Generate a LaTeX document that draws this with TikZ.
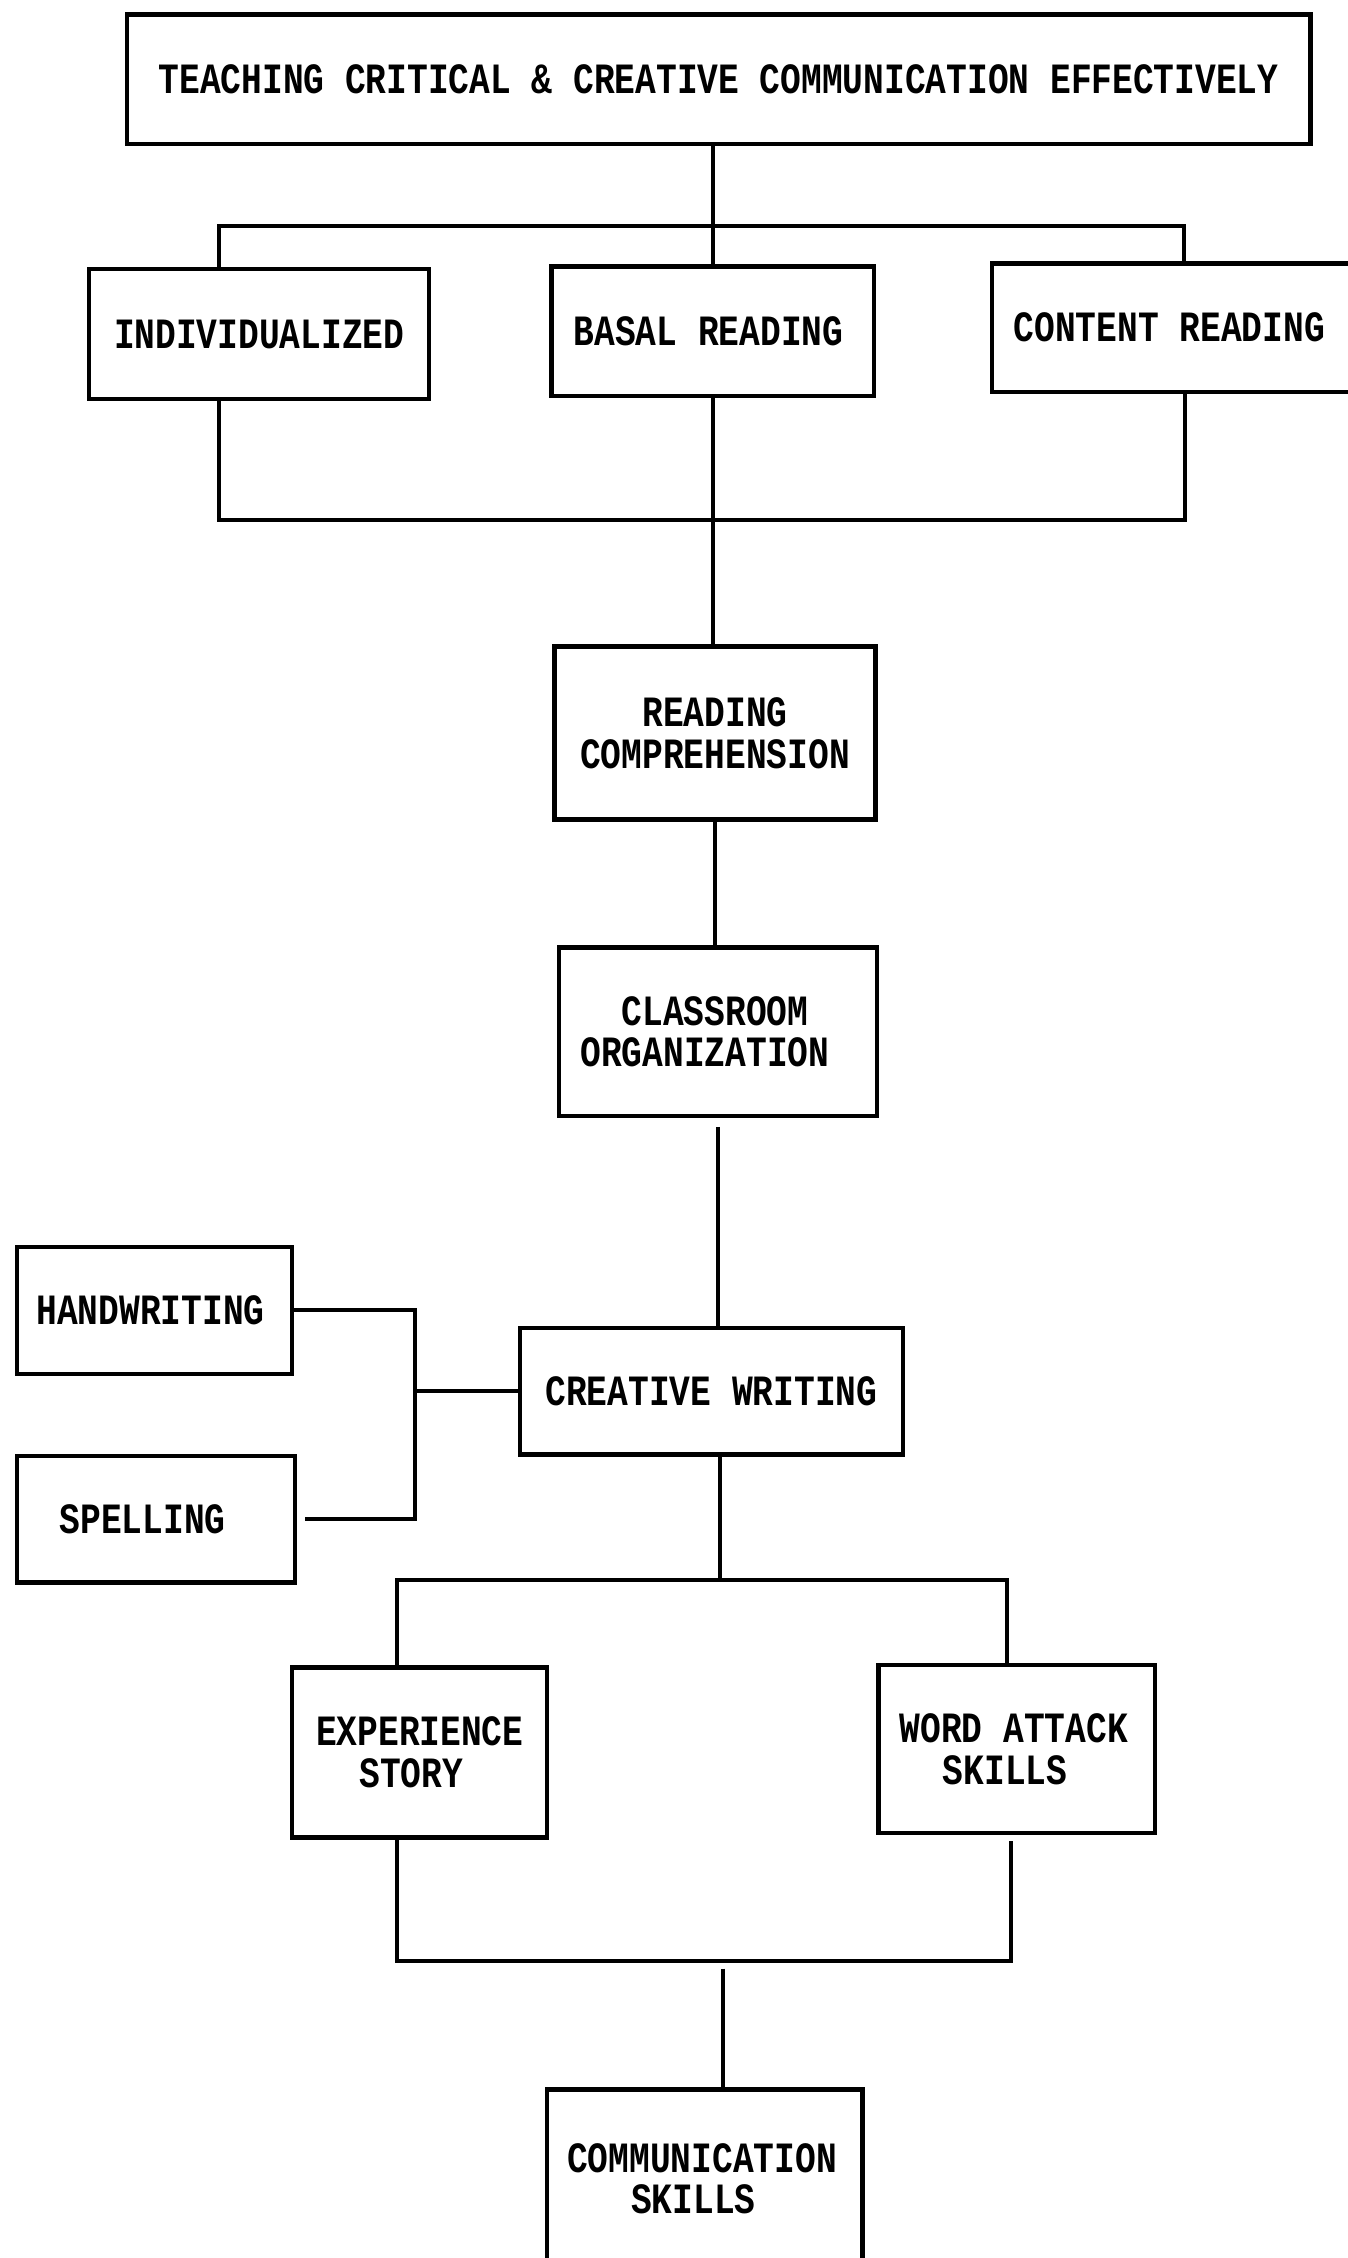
\documentclass[tikz,border=0pt]{standalone}
\usepackage{fontspec}
\setmonofont[FakeStretch=0.8]{Liberation Mono}
\tikzset{
  box/.style={draw, rectangle, line width=3pt, inner sep=0pt,
    font=\ttfamily\bfseries\fontsize{30}{29}\selectfont, align=center},
  conn/.style={line width=2.8pt}
}
\begin{document}
\begin{tikzpicture}[x=1pt,y=-1pt]
\path[use as bounding box] (0,0) rectangle (936,1568);
\clip (0,0) rectangle (936,1568);
\fill[white] (0,0) rectangle (936,1568);
% nodes
\node[box, minimum width=822, minimum height=90] (top) at (499,55) {TEACHING CRITICAL \& CREATIVE COMMUNICATION EFFECTIVELY};
\node[box, minimum width=236, minimum height=90] (indiv) at (180,232) {INDIVIDUALIZED};
\node[box, minimum width=224, minimum height=90] (basal) at (495,230) {BASAL READING\hspace*{6pt}};
\node[box, minimum width=261, minimum height=89] (content) at (819.5,227.5) {CONTENT READING\hspace*{15pt}};
\node[box, minimum width=223, minimum height=120] (rc) at (496.5,509) {READING\\COMPREHENSION};
\node[box, minimum width=221, minimum height=117] (cl) at (498.5,716.5) {CLASSROOM\hspace*{4pt}\\ORGANIZATION\hspace*{18pt}};
\node[box, minimum width=266, minimum height=88] (cw) at (494,966) {CREATIVE WRITING};
\node[box, minimum width=191, minimum height=88] (hw) at (107.5,910) {HANDWRITING\hspace*{6pt}};
\node[box, minimum width=193, minimum height=88] (sp) at (108.5,1055) {SPELLING\hspace*{19pt}};
\node[box, minimum width=177, minimum height=118] (es) at (291.5,1217) {EXPERIENCE\\STORY\hspace*{12pt}};
\node[box, minimum width=192, minimum height=117] (wa) at (706,1214.5) {WORD ATTACK\hspace*{4pt}\\SKILLS\hspace*{16pt}};
\node[box, minimum width=219, minimum height=124] (comm) at (489.5,1513) {COMMUNICATION\hspace*{4pt}\\SKILLS\hspace*{16pt}};
% coordinates for brackets
\coordinate (t1) at (152,157);
\coordinate (t2) at (822,157);
\coordinate (m1) at (152,361);
\coordinate (m2) at (823,361);
\coordinate (hv) at (288,0);
\coordinate (l1) at (276,1097);
\coordinate (l2) at (699,1097);
\coordinate (n1) at (276,1362);
\coordinate (n2) at (702,1362);
\coordinate (c1) at (502,1367);
% connectors
\draw[conn] (top.south -| basal.north) -- (basal.north);
\draw[conn] (t1 |- indiv.north) -- (t1) -- (t2) -- (t2 |- content.north);
\draw[conn] (m1 |- indiv.south) -- (m1) -- (m2) -- (m2 |- content.south);
\draw[conn] (basal.south) -- (basal.south |- rc.north);
\draw[conn] (rc.south) -- (rc.south |- cl.north);
\draw[conn] ([yshift=-6pt]cl.south) -- (cl.south |- cw.north);
\draw[conn] (hw.east) -- (hw.east -| hv) -- (hv |- sp.east) -- ([xshift=5pt]sp.east);
\draw[conn] (hv |- cw.west) -- (cw.west);
\draw[conn] ([xshift=6pt]cw.south) -- ([xshift=6pt]cw.south |- l1);
\draw[conn] (l1 |- es.north) -- (l1) -- (l2) -- (l2 |- wa.north);
\draw[conn] (n1 |- es.south) -- (n1) -- (n2) -- ([yshift=-4pt]n2 |- wa.south);
\draw[conn] (c1) -- (c1 |- comm.north);
\end{tikzpicture}
\end{document}
